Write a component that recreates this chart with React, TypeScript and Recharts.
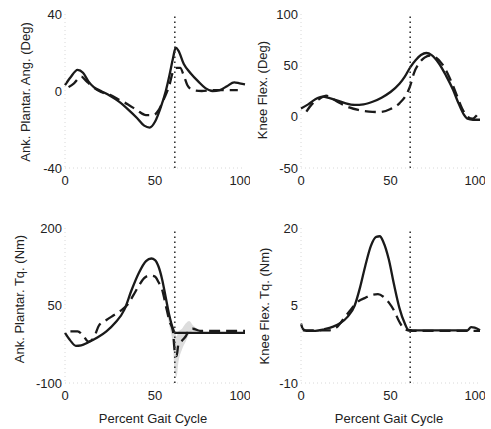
import React from "react";
import {
  ComposedChart,
  Line,
  Area,
  XAxis,
  YAxis,
  ReferenceLine,
} from "recharts";

// percent gait cycle ticks, toe-off marker
const xTicks = [0, 50, 100];
const toeOff = 61;

// ankle plantarflexion angle (deg)
const ankleAngTicks = [-40, 0, 40];
const ankleAngSolid = [
  [0, 3], [3, 7], [7, 11], [10, 9.5], [13, 5], [16, 2], [20, 0], [25, -2.5],
  [30, -5.5], [35, -9.5], [40, -14], [44, -18], [47, -19], [50, -16], [53, -9],
  [56, 0], [58, 8], [60, 17], [61.5, 22.5], [63, 21], [66, 14], [70, 9],
  [74, 5], [78, 1.5], [82, 0], [86, 0.5], [90, 2.5], [94, 4.5], [97, 4], [100, 3.5],
];
const ankleAngDashed = [
  [2, 2], [5, 4], [9, 7.5], [12, 5], [15, 2.5], [20, -0.5], [25, -2], [30, -4.5],
  [35, -7], [40, -10], [45, -12.5], [49, -12.5], [52, -10], [55, -4], [58, 3],
  [60, 10], [62, 12], [64, 12], [66, 8], [68, 3], [71, 0.5], [76, 0], [82, 0.5],
  [88, 0.5], [96, 0.5],
];

// knee flexion angle (deg)
const kneeAngTicks = [-50, 0, 50, 100];
const kneeAngSolid = [
  [0, 8], [4, 12], [8, 17], [12, 19.5], [16, 18], [20, 16], [25, 13], [30, 11.5],
  [35, 12], [40, 14.5], [45, 18.5], [50, 24], [55, 32], [58, 39], [61, 48],
  [64, 55], [67, 60], [70, 62], [73, 60], [77, 52], [81, 40], [85, 26], [88, 13],
  [91, 2], [93, -2], [96, -3], [100, -3],
];
const kneeAngDashed = [
  [3, 5], [6, 12], [10, 17], [14, 20.5], [18, 17], [22, 13], [27, 9], [32, 6.5],
  [38, 5], [44, 4.5], [50, 7.5], [55, 13], [59, 22], [61, 30], [63, 42], [66, 52],
  [69, 57.5], [72, 59.5], [75, 58], [79, 51], [83, 38], [87, 21], [90, 8], [93, 0],
  [96, -2], [98, 1], [100, 6],
];

// ankle plantarflexion torque (Nm)
const ankleTqTicks = [-100, 50, 200];
const ankleTqSolid = [
  [0, -3], [3, -18], [6, -28], [9, -27], [13, -21], [18, -12], [23, 0], [28, 17],
  [33, 42], [37, 80], [41, 113], [45, 136], [48, 141], [50, 138], [52, 125],
  [54, 100], [56, 65], [58, 30], [60, 5], [61, -3], [65, -3], [75, -3], [85, -3],
  [100, -3],
];
const ankleTqDashed = [
  [3, 0], [7, 0], [10, -8], [13, -20], [16, -12], [19, 12], [23, 22], [27, 31],
  [31, 40], [35, 53], [38, 70], [41, 88], [44, 103], [47, 108], [50, 106],
  [52, 95], [54, 80], [56, 50], [58, 20], [60, 0], [61, -40], [62, -48], [63, -25],
  [65, -18], [67, -10], [69, 2], [71, 5], [75, 1], [85, 1], [100, 1],
];
const ankleTqBand = [
  [56, 45, 55], [58, 10, 30], [60, -30, 10], [61, -80, 0], [62, -88, -10],
  [63, -60, 0], [65, -35, 5], [67, -20, 15], [69, -5, 20], [71, 0, 12], [74, -1, 4],
];

// knee flexion torque (Nm)
const kneeTqTicks = [-10, 5, 20];
const kneeTqSolid = [
  [0, 1.5], [1, 0.5], [3, 0.1], [8, 0.1], [13, 0.4], [18, 0.9], [22, 1.6],
  [26, 2.8], [30, 5], [33, 8.5], [36, 12.8], [39, 16.5], [42, 18.3], [44, 18.4],
  [46, 17.3], [49, 14], [52, 9], [55, 4.5], [58, 1.5], [60, 0.3], [65, 0.2],
  [80, 0.2], [93, 0.2], [95, 0.8], [97, 0.7], [100, 0.2],
];
const kneeTqDashed = [
  [1, 0.2], [10, 0.2], [16, 0.2], [20, 0.8], [24, 2.5], [28, 4.3], [32, 5.8],
  [36, 6.5], [40, 7.1], [43, 7.2], [46, 6.7], [49, 5.6], [52, 4], [55, 1.8],
  [58, 0.4], [62, 0.1], [80, 0.1], [100, 0.1],
];

const toPts = (arr: number[][]) => arr.map(([x, y]) => ({ x, y }));
const toBand = (arr: number[][]) => arr.map(([x, lo, hi]) => ({ x, range: [lo, hi] }));

const FONT = "'Liberation Sans', Arial, sans-serif";
const INK = "#1a1a1a";

interface PanelProps {
  left: number;
  top: number;
  width: number;
  height: number;
  margin: { top: number; right: number; bottom: number; left: number };
  yTicks: number[];
  solid: number[][];
  dashed: number[][];
  band?: number[][];
}

function Panel({ left, top, width, height, margin, yTicks, solid, dashed, band }: PanelProps) {
  const axisLine = { stroke: "#d8d8d8", strokeDasharray: "1 3" };
  return (
    <div style={{ position: "absolute", left, top }}>
      <ComposedChart width={width} height={height} margin={margin}>
        <XAxis
          type="number"
          dataKey="x"
          domain={[0, 100]}
          ticks={xTicks}
          height={30}
          tickLine={false}
          axisLine={axisLine}
          tick={{ fontSize: 13, fill: "#222", fontFamily: FONT }}
        />
        <YAxis
          type="number"
          domain={[yTicks[0], yTicks[yTicks.length - 1]]}
          ticks={yTicks}
          width={40}
          tickLine={false}
          tickSize={2}
          tickMargin={1}
          axisLine={axisLine}
          tick={{ fontSize: 13, fill: "#222", fontFamily: FONT }}
        />
        {band && (
          <Area
            data={toBand(band)}
            dataKey="range"
            type="monotone"
            stroke="none"
            fill="#cfcfcf"
            fillOpacity={0.7}
            isAnimationActive={false}
          />
        )}
        <Line
          data={toPts(dashed)}
          dataKey="y"
          type="monotone"
          stroke={INK}
          strokeWidth={2.3}
          strokeDasharray="11 6"
          dot={false}
          isAnimationActive={false}
        />
        <Line
          data={toPts(solid)}
          dataKey="y"
          type="monotone"
          stroke={INK}
          strokeWidth={2.3}
          dot={false}
          isAnimationActive={false}
        />
        <ReferenceLine x={toeOff} stroke="#333" strokeWidth={1.6} strokeDasharray="1.5 3.5" />
      </ComposedChart>
    </div>
  );
}

function VLabel({ x, y, text }: { x: number; y: number; text: string }) {
  return (
    <div
      style={{
        position: "absolute",
        left: x,
        top: y,
        transform: "translate(-50%, -50%) rotate(-90deg)",
        whiteSpace: "nowrap",
        fontSize: 13,
        fontFamily: FONT,
        color: "#222",
      }}
    >
      {text}
    </div>
  );
}

function HLabel({ x, y, text }: { x: number; y: number; text: string }) {
  return (
    <div
      style={{
        position: "absolute",
        left: x,
        top: y,
        transform: "translate(-50%, -50%)",
        whiteSpace: "nowrap",
        fontSize: 13,
        fontFamily: FONT,
        color: "#222",
      }}
    >
      {text}
    </div>
  );
}

export default function App() {
  return (
    <div
      style={{
        position: "absolute",
        left: 0,
        top: 0,
        width: 491,
        height: 429,
        background: "#fff",
        overflow: "hidden",
      }}
    >
      <Panel
        left={0}
        top={0}
        width={250}
        height={200}
        margin={{ top: 14, right: 5, bottom: 2, left: 25 }}
        yTicks={ankleAngTicks}
        solid={ankleAngSolid}
        dashed={ankleAngDashed}
      />
      <Panel
        left={240}
        top={0}
        width={245}
        height={200}
        margin={{ top: 14, right: 5, bottom: 2, left: 21 }}
        yTicks={kneeAngTicks}
        solid={kneeAngSolid}
        dashed={kneeAngDashed}
      />
      <Panel
        left={0}
        top={200}
        width={250}
        height={229}
        margin={{ top: 28, right: 5, bottom: 16, left: 25 }}
        yTicks={ankleTqTicks}
        solid={ankleTqSolid}
        dashed={ankleTqDashed}
        band={ankleTqBand}
      />
      <Panel
        left={240}
        top={200}
        width={245}
        height={229}
        margin={{ top: 28, right: 5, bottom: 16, left: 21 }}
        yTicks={kneeTqTicks}
        solid={kneeTqSolid}
        dashed={kneeTqDashed}
      />
      <VLabel x={25} y={92} text="Ank. Plantar. Ang. (Deg)" />
      <VLabel x={262} y={90} text="Knee Flex. (Deg)" />
      <VLabel x={19} y={299} text="Ank. Plantar. Tq. (Nm)" />
      <VLabel x={264} y={306} text="Knee Flex. Tq. (Nm)" />
      <HLabel x={153} y={418} text="Percent Gait Cycle" />
      <HLabel x={389} y={418} text="Percent Gait Cycle" />
    </div>
  );
}
